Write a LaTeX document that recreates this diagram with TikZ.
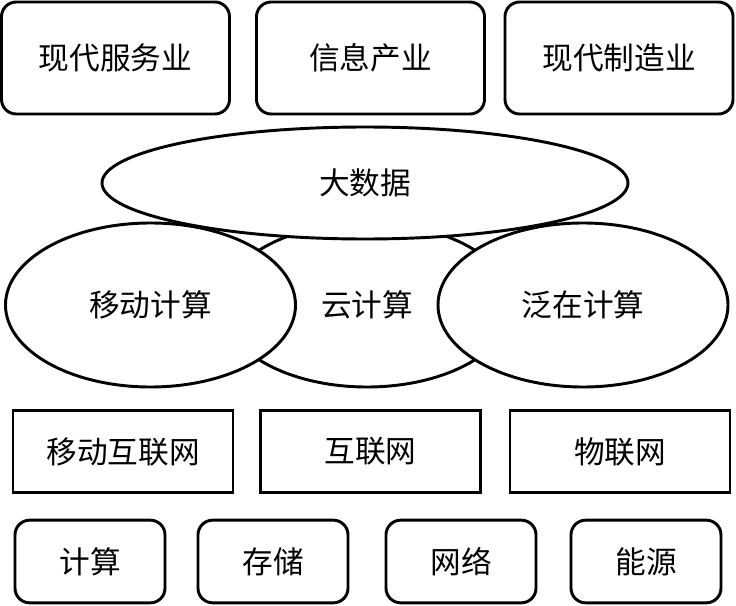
\documentclass[tikz,border=0pt]{standalone}
\usepackage{fontspec}
\setmainfont{Noto Sans CJK SC}
\usepackage{tikz}
\usetikzlibrary{positioning,shapes.geometric}

\begin{document}
\begin{tikzpicture}[
  x=0.75pt, y=-0.75pt,
  every node/.style={font=\fontsize{23}{27}\selectfont, line width=2.2pt},
  topbox/.style={draw, rounded corners=11pt, minimum width=171pt,
    minimum height=84pt},
  oval/.style={draw, ellipse, fill=white, minimum width=217.5pt,
    minimum height=123pt, inner sep=0pt},
  bigoval/.style={oval, minimum width=394.5pt, minimum height=84pt},
  netbox/.style={draw, minimum width=165pt, minimum height=62pt},
  basebox/.style={draw, rounded corners=11pt, minimum width=112.5pt,
    minimum height=62pt}
]
\useasboundingbox (0,0) rectangle (736,606);

% ---- industries (top) ----
\node[topbox] (serv) at (115.5,58) {现代服务业};
\node[topbox] (info) at (370.5,58) {信息产业};
\node[topbox] (manu) at (619,58) {现代制造业};

% ---- computing (middle) ----
\node[oval] (cloud) at (367,305) {云计算};
\node[bigoval] (bigdata) at (365,183) {大数据};
\node[oval] (mobile) at (150.5,305) {移动计算};
\node[oval] (ubiq) at (583,305) {泛在计算};

% ---- networks ----
\node[netbox] (mobnet) at (123,451.5) {移动互联网};
\node[netbox] (inet) at (370.5,451.5) {互联网};
\node[netbox] (iot) at (620,451.5) {物联网};

% ---- resources (bottom) ----
\node[basebox] (comp) at (90,561.5) {计算};
\node[basebox] (stor) at (273,561.5) {存储};
\node[basebox] (netw) at (461,561.5) {网络};
\node[basebox] (power) at (646,561.5) {能源};
\end{tikzpicture}
\end{document}
